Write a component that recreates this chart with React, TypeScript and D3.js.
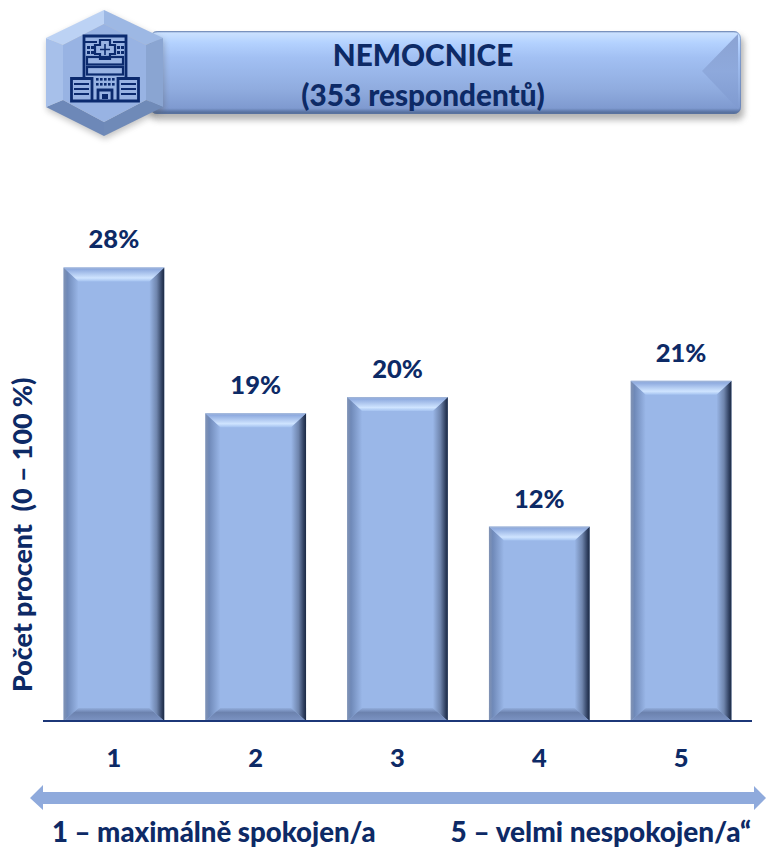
import React from "react";
import * as d3 from "d3";

const scaleLevels = ["1", "2", "3", "4", "5"];
const percentShares = [28, 19, 20, 12, 21];
const headerLines = ["NEMOCNICE", "(353 respondentů)"];
const axisTitle = "Počet procent  (0 – 100 %)";
const leftCaption = "1 – maximálně spokojen/a";
const rightCaption = "5 – velmi nespokojen/a“";

const WIDTH = 766;
const HEIGHT = 847;
const NAVY = "#0d2a66";
const FONT = "Lato, 'Noto Sans', sans-serif";
const BEVEL_X = 15;
const BEVEL_TOP = 14;
const BEVEL_BOTTOM = 13;
const LABEL_SIZE = 25.5;

const pts = (list: number[][]) => list.map((p) => p.join(",")).join(" ");

// Flat-line hospital pictogram drawn inside the hexagon badge.
function HospitalIcon() {
  const stroke = { fill: "none", stroke: "#0b2a6e", strokeWidth: 2.8 };
  const solid = "#0b2a6e";
  const gridRows = [46, 51];
  const gridCols = [87, 91, 117, 121];
  return (
    <g>
      <path d="M84 77 V36 H126 V77" {...stroke} />
      <path d="M84 42 H97 M113 42 H126" {...stroke} strokeWidth={2} />
      <path d="M100 40 H110 V45 H115 V54 H110 V59 H100 V54 H95 V45 H100 Z" {...stroke} strokeWidth={2.2} />
      <path d="M105 44 V55 M100 49.5 H110" {...stroke} strokeWidth={1.6} />
      {gridRows.map((row) =>
        gridCols.map((col) => (
          <rect key={`${row}-${col}`} x={col} y={row} width={3} height={3} fill={solid} />
        ))
      )}
      <rect x={87} y={57} width={36} height={7.5} {...stroke} strokeWidth={2.2} />
      <rect x={87} y={67} width={36} height={7.5} {...stroke} strokeWidth={2.2} />
      {[97, 101, 105, 109, 113].map((col) => (
        <g key={col}>
          <rect x={col - 1} y={78} width={2.6} height={2.6} fill={solid} />
          <rect x={col - 1} y={83} width={2.6} height={2.6} fill={solid} />
        </g>
      ))}
      <path d="M71.5 78.5 H92 V101 H71.5 Z M118 78.5 H138.5 V101 H118 Z M92 101 H118" {...stroke} />
      {[84, 89, 94].map((row) => (
        <path key={row} d={`M74 ${row} H89 M121 ${row} H136`} {...stroke} strokeWidth={2.2} />
      ))}
      <path d="M98 101 V90 H112 V101" {...stroke} />
      <rect x={102} y={94} width={6} height={5} fill={solid} />
    </g>
  );
}

export default function App() {
  const x = d3
    .scaleBand<string>()
    .domain(scaleLevels)
    .range([43, 752])
    .paddingInner(0.29)
    .paddingOuter(0.145);
  const y = d3.scaleLinear().domain([0, 30]).range([721, 235]);
  const w = x.bandwidth();

  const hexOuter = [[104, 10], [163, 38], [163, 107], [104, 136], [46, 107], [46, 38]];
  const hexInner = [[104, 24], [146, 45], [146, 100], [104, 122], [63, 100], [63, 45]];
  const hexFills = ["#9db8e4", "#8aa5d2", "#6f8ab8", "#6d88b8", "#a7c0ea", "#bcd2f4"];

  return (
    <svg
      width={WIDTH}
      height={HEIGHT}
      style={{ position: "absolute", left: 0, top: 0, display: "block", fontFamily: FONT }}
    >
      <defs>
        <linearGradient id="headerBody" x1="0" y1="0" x2="0" y2="1">
          <stop offset="0" stopColor="#8ea6cf" />
          <stop offset="0.03" stopColor="#c9e0ff" />
          <stop offset="0.14" stopColor="#b4d2ff" />
          <stop offset="0.32" stopColor="#a2c0f3" />
          <stop offset="0.7" stopColor="#90acdf" />
          <stop offset="0.93" stopColor="#7f9ad0" />
          <stop offset="0.97" stopColor="#5e78a8" />
          <stop offset="1" stopColor="#4f688f" />
        </linearGradient>
        <linearGradient id="headerFold" x1="0" y1="0" x2="0" y2="1">
          <stop offset="0" stopColor="#8ba3d3" />
          <stop offset="0.5" stopColor="#8ea9dc" />
          <stop offset="1" stopColor="#7f9ad0" />
        </linearGradient>
        <linearGradient id="barTop" x1="0" y1="0" x2="0" y2="1">
          <stop offset="0" stopColor="#a3b6d6" />
          <stop offset="0.15" stopColor="#90ace0" />
          <stop offset="0.75" stopColor="#cfe4ff" />
          <stop offset="1" stopColor="#a4c2f0" />
        </linearGradient>
        <linearGradient id="barLeft" x1="0" y1="0" x2="1" y2="0">
          <stop offset="0" stopColor="#8293b3" />
          <stop offset="0.25" stopColor="#6f89b8" />
          <stop offset="1" stopColor="#9ab7e8" />
        </linearGradient>
        <linearGradient id="barRight" x1="0" y1="0" x2="1" y2="0">
          <stop offset="0" stopColor="#9ab7e8" />
          <stop offset="0.5" stopColor="#6f85ad" />
          <stop offset="0.85" stopColor="#2f3f5f" />
          <stop offset="1" stopColor="#1c2a44" />
        </linearGradient>
        <linearGradient id="barBottom" x1="0" y1="0" x2="0" y2="1">
          <stop offset="0" stopColor="#93aedd" />
          <stop offset="0.35" stopColor="#6c82ae" />
          <stop offset="1" stopColor="#7c94c4" />
        </linearGradient>
        <filter id="softShadow" x="-5%" y="-20%" width="110%" height="150%">
          <feGaussianBlur stdDeviation="3" />
        </filter>
      </defs>

      {/* Title banner */}
      <rect x={150} y={36} width={594} height={84} rx={7} fill="#777" opacity={0.55} filter="url(#softShadow)" />
      <rect x={150} y={31} width={591} height={83} rx={7} fill="url(#headerBody)" />
      <polygon points={pts([[738, 34], [702, 71], [738, 109]])} fill="url(#headerFold)" />
      <rect x={150.5} y={31.5} width={590} height={82} rx={7} fill="none" stroke="#5f78a8" strokeOpacity={0.55} />
      {headerLines.map((line, i) => (
        <text
          key={line}
          x={423}
          y={i === 0 ? 66 : 106}
          textAnchor="middle"
          fontSize={29.7}
          fontWeight={900}
          fill={NAVY}
        >
          {line}
        </text>
      ))}

      {/* Hexagon badge */}
      <polygon points={pts(hexOuter)} fill="#555" opacity={0.35} transform="translate(1,3)" filter="url(#softShadow)" />
      {hexOuter.map((p, i) => {
        const j = (i + 1) % 6;
        return (
          <polygon
            key={i}
            points={pts([p, hexOuter[j], hexInner[j], hexInner[i]])}
            fill={hexFills[i]}
          />
        );
      })}
      <polygon points={pts(hexInner)} fill="#98b3e3" />
      <HospitalIcon />

      {/* Bevelled bars */}
      {scaleLevels.map((level, i) => {
        const left = x(level)!;
        const right = left + w;
        const top = y(percentShares[i]);
        const bottom = y(0);
        const inner = {
          l: left + BEVEL_X,
          r: right - BEVEL_X,
          t: top + BEVEL_TOP,
          b: bottom - BEVEL_BOTTOM,
        };
        return (
          <g key={level}>
            <rect x={left} y={top} width={w} height={bottom - top} fill="#9ab7e8" />
            <polygon
              points={pts([[left, top], [left, bottom], [inner.l, inner.b], [inner.l, inner.t]])}
              fill="url(#barLeft)"
            />
            <polygon
              points={pts([[right, top], [right, bottom], [inner.r, inner.b], [inner.r, inner.t]])}
              fill="url(#barRight)"
            />
            <polygon
              points={pts([[left, top], [right, top], [inner.r, inner.t], [inner.l, inner.t]])}
              fill="url(#barTop)"
            />
            <polygon
              points={pts([[left, bottom], [right, bottom], [inner.r, inner.b], [inner.l, inner.b]])}
              fill="url(#barBottom)"
            />
            <text
              x={left + w / 2}
              y={top - 19}
              textAnchor="middle"
              fontSize={LABEL_SIZE}
              fontWeight={900}
              fill={NAVY}
            >
              {percentShares[i]}%
            </text>
            <text
              x={left + w / 2}
              y={767}
              textAnchor="middle"
              fontSize={LABEL_SIZE}
              fontWeight={900}
              fill={NAVY}
            >
              {level}
            </text>
          </g>
        );
      })}

      {/* Category baseline */}
      <line x1={43} x2={752} y1={y(0)} y2={y(0)} stroke="#1c3778" strokeWidth={2} />

      {/* Value axis title */}
      <text
        transform="translate(32,692) rotate(-90)"
        fontSize={26.8}
        fontWeight={900}
        fill={NAVY}
        style={{ whiteSpace: "pre" }}
      >
        {axisTitle}
      </text>

      {/* Direction arrow between both ends of the rating scale */}
      <polygon
        points={pts([[30, 798], [43, 785], [43, 792], [754, 792], [754, 786], [766, 798], [754, 810], [754, 804], [43, 804], [43, 810]])}
        fill="#8faadc"
      />

      <text x={52} y={842} fontSize={27.6} fontWeight={900} fill={NAVY}>
        {leftCaption}
      </text>
      <text x={751} y={842} textAnchor="end" fontSize={28} fontWeight={900} fill={NAVY}>
        {rightCaption}
      </text>
    </svg>
  );
}
